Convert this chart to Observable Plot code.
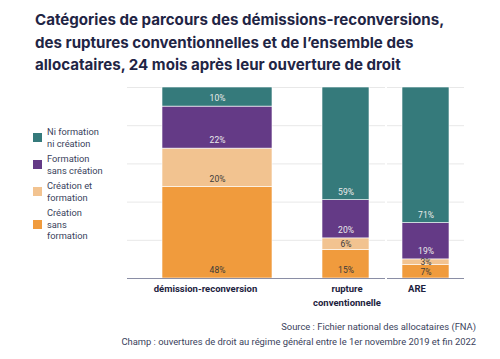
<!DOCTYPE html>
<html>
<head>
<meta charset="utf-8">
<script src="https://cdn.jsdelivr.net/npm/d3@7"></script>
<script src="https://cdn.jsdelivr.net/npm/@observablehq/plot@0.6"></script>
<style>
  html, body { margin: 0; padding: 0; background: #fff; }
  body { width: 500px; height: 359px; position: relative; overflow: hidden; font-family: Roboto, sans-serif; }
  #title { position: absolute; left: 35px; top: 9px; width: 465px; font-family: Inter, sans-serif; font-weight: 700; font-size: 15.1px; line-height: 22.5px; color: #1f2545; white-space: nowrap; }
  #legend { position: absolute; left: 33px; top: 126px; display: flex; flex-direction: column; gap: 4px; }
  .item { display: flex; align-items: center; }
  .sw { width: 9px; height: 9px; margin-right: 5px; flex: none; }
  .lab { font-size: 9.3px; line-height: 11.5px; color: #3a3f5c; white-space: pre; }
  .plot { position: absolute; top: 77px; }
  #caption { position: absolute; right: 24px; top: 319px; text-align: right; font-size: 9.4px; line-height: 15px; color: #3a3f5c; }
</style>
</head>
<body>
<div id="title">Catégories de parcours des démissions-reconversions,<br>des ruptures conventionnelles et de l’ensemble des<br>allocataires, 24 mois après leur ouverture de droit</div>
<div id="legend"></div>
<div id="charts"></div>
<div id="caption">Source : Fichier national des allocataires (FNA)<br>Champ : ouvertures de droit au régime général entre le 1er novembre 2019 et fin 2022</div>
<script>
// ---- data ----
const categories = ["démission-reconversion", "rupture conventionnelle", "ARE"];
const categoryLabels = ["démission-reconversion", "rupture\nconventionnelle", "ARE"];
const series = ["Création sans formation", "Création et formation", "Formation sans création", "Ni formation ni création"];
const legendLabels = ["Création\nsans\nformation", "Création et\nformation", "Formation\nsans création", "Ni formation\nni création"];
const creationSansFormation = [48, 15, 7];
const creationEtFormation = [20, 6, 3];
const formationSansCreation = [22, 20, 19];
const niFormationNiCreation = [10, 59, 71];

// ---- styles ----
const colors = ["#f09b3d", "#f2c390", "#643a86", "#357a7b"];
const labelColors = ["#3a3a3a", "#3a3a3a", "#ececec", "#ececec"];
const labelLift = 4.2; // max lift of a value label above its segment's base, in y units

const valuesBySeries = [creationSansFormation, creationEtFormation, formationSansCreation, niFormationNiCreation];
const rows = [];
categories.forEach((cat, i) => {
  let lo = 0;
  series.forEach((s, j) => {
    const v = valuesBySeries[j][i];
    rows.push({cat, series: s, value: v, lo, sIndex: j});
    lo += v;
  });
});

// legend (top to bottom = reverse of stack order)
const legend = document.getElementById("legend");
series.slice().reverse().forEach((s, k) => {
  const j = series.length - 1 - k;
  const it = document.createElement("div");
  it.className = "item";
  it.innerHTML = `<div class="sw" style="background:${colors[j]}"></div><div class="lab"></div>`;
  it.querySelector(".lab").textContent = legendLabels[j];
  legend.appendChild(it);
});

// layout of the three panels
const panels = [
  {left: 127, width: 180, dx: -12},
  {left: 307, width: 78, dx: 1},
  {left: 387, width: 77, dx: -9}
];

const labelY = d => d.lo + Math.min(d.value / 2, labelLift);

const charts = document.getElementById("charts");
categories.forEach((cat, i) => {
  const data = rows.filter(d => d.cat === cat);
  const p = panels[i];
  const chart = Plot.plot({
    width: p.width,
    height: 243,
    marginTop: 10,
    marginBottom: 42,
    marginLeft: 0,
    marginRight: 0,
    style: {background: "transparent", overflow: "visible", fontFamily: "Roboto, sans-serif"},
    x: {domain: [cat], padding: 0.24, label: null},
    y: {domain: [0, 100], axis: null},
    color: {domain: series, range: colors},
    marks: [
      Plot.gridY([20, 40, 60, 80, 100], {stroke: "#e8e8e8", strokeOpacity: 1}),
      Plot.barY(data, {x: "cat", y: "value", fill: "series", stroke: "white", strokeWidth: 0.6}),
      Plot.text(data.filter(d => d.sIndex < 2), {x: "cat", y: labelY, text: d => d.value + "%", fill: labelColors[0], fontSize: 8.5}),
      Plot.text(data.filter(d => d.sIndex >= 2), {x: "cat", y: labelY, text: d => d.value + "%", fill: labelColors[2], fontSize: 8.5}),
      Plot.ruleY([0], {stroke: "#8a8ea5", strokeWidth: 1}),
      Plot.axisX({tickSize: 0, tickPadding: 4, fontSize: 9.5, fontWeight: "bold", fill: "#1d2340", lineHeight: 1.45, dx: p.dx, tickFormat: c => categoryLabels[categories.indexOf(c)], label: null})
    ]
  });
  chart.classList.add("plot");
  chart.style.left = p.left + "px";
  charts.appendChild(chart);
});
</script>
</body>
</html>
